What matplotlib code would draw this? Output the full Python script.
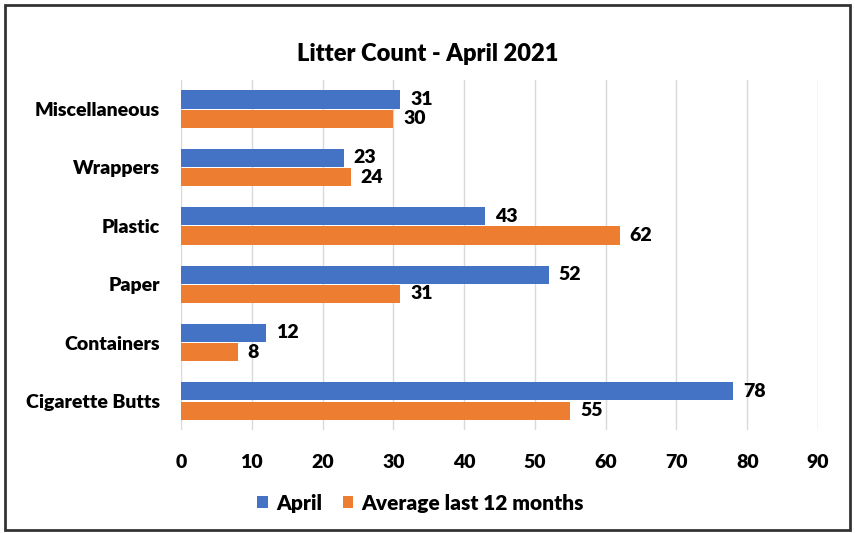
import matplotlib.pyplot as plt
import numpy as np

categories = ['Cigarette Butts', 'Containers', 'Paper', 'Plastic', 'Wrappers', 'Miscellaneous']
april = [78, 12, 52, 43, 23, 31]
average = [55, 8, 31, 62, 24, 30]
xticks = [0, 10, 20, 30, 40, 50, 60, 70, 80, 90]

plt.rcParams['font.family'] = ['Lato', 'DejaVu Sans']
plt.rcParams['font.weight'] = 'heavy'

fig = plt.figure(figsize=(8.55, 5.33), dpi=100)
ax = fig.add_axes([0.2117, 0.193, 0.745, 0.657])

y = np.arange(len(categories))
h = 0.31
b1 = ax.barh(y + h / 2 + 0.01, april, height=h, color='#4472C4', label='April', zorder=3)
b2 = ax.barh(y - h / 2 - 0.01, average, height=h, color='#ED7D31', label='Average last 12 months', zorder=3)

for bars in (b1, b2):
    ax.bar_label(bars, padding=7, fontsize=14, fontweight='heavy')

ax.set_xlim(0, 90)
ax.set_ylim(-0.5, 5.5)
ax.set_xticks(xticks)
ax.set_yticks(y)
ax.set_yticklabels(categories)
ax.tick_params(axis='both', length=0, labelsize=14)
ax.tick_params(axis='x', pad=17)
ax.tick_params(axis='y', pad=15)
ax.grid(axis='x', color='#d9d9d9', linewidth=1, zorder=0)
for s in ax.spines.values():
    s.set_visible(False)

fig.suptitle('Litter Count - April 2021', y=0.92, fontsize=17, fontweight='heavy')
fig.legend(loc='center', bbox_to_anchor=(0.492, 0.056), ncol=2, frameon=False,
           fontsize=15, handlelength=0.5, handleheight=0.5, handletextpad=0.4, columnspacing=1.0)

border = plt.Rectangle((0.006, 0.006), 0.988, 0.984, transform=fig.transFigure,
                       fill=False, edgecolor='#333333', linewidth=2)
fig.patches.append(border)

fig.savefig('out.png', dpi=100)
